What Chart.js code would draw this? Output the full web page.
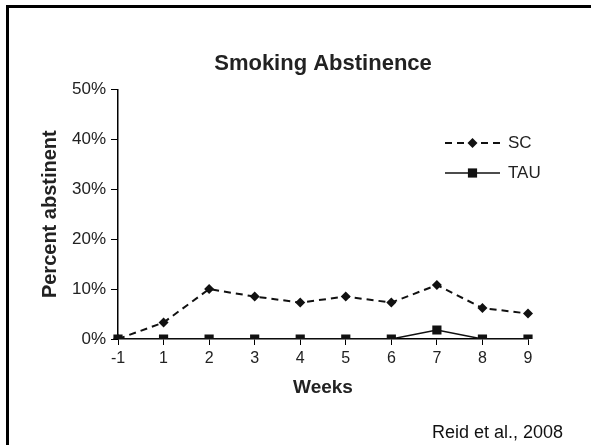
<!DOCTYPE html>
<html>
<head>
<meta charset="utf-8">
<script src="https://cdn.jsdelivr.net/npm/chart.js@4"></script>
<style>
  html, body { margin:0; padding:0; background:#fff; overflow:hidden; }
  #wrap { position:relative; width:591px; height:445px; }
  #frame { position:absolute; left:6px; top:5px; right:0; bottom:0; border-left:3px solid #000; border-top:3px solid #000; pointer-events:none; }
</style>
</head>
<body>
<div id="wrap">
  <canvas id="chart" width="591" height="445"></canvas>
  <div id="frame"></div>
</div>
<script>
/* ── data ── */
const WEEKS = ['-1','1','2','3','4','5','6','7','8','9'];
const SC_VALUES  = [0, 3.3, 10, 8.5, 7.3, 8.5, 7.3, 10.8, 6.2, 5.1];
const TAU_VALUES = [0, 0, 0, 0, 0, 0, 0, 1.8, 0, 0];
const Y_MAX = 50, Y_STEP = 10;
const FONT = '"Liberation Sans", Arial, sans-serif';
const INK = '#222';

/* ── legend with line sample + marker, and source note ── */
const sideLegend = {
  id:'sideLegend',
  afterDraw(chart) {
    const {ctx, chartArea} = chart;
    const x0 = chartArea.right - 83, x1 = chartArea.right - 28;
    const rows = [143, 173];
    ctx.save();
    chart.data.datasets.forEach((ds, i) => {
      const y = rows[i];
      ctx.strokeStyle = ds.borderColor;
      ctx.lineWidth = ds.borderWidth;
      ctx.setLineDash(ds.borderDash || []);
      ctx.beginPath(); ctx.moveTo(x0, y); ctx.lineTo(x1, y); ctx.stroke();
      ctx.setLineDash([]);
      const mx = (x0 + x1) / 2, r = ds.pointRadius;
      ctx.fillStyle = ds.pointBackgroundColor;
      ctx.beginPath();
      if (ds.pointStyle === 'rectRot') {
        ctx.moveTo(mx, y - r); ctx.lineTo(mx + r, y); ctx.lineTo(mx, y + r); ctx.lineTo(mx - r, y);
      } else {
        const s = r * Math.SQRT1_2;
        ctx.rect(mx - s, y - s, 2 * s, 2 * s);
      }
      ctx.closePath(); ctx.fill();
      ctx.fillStyle = INK;
      ctx.font = '17px ' + FONT;
      ctx.textAlign = 'left'; ctx.textBaseline = 'middle';
      ctx.fillText(ds.label, x1 + 8, y);
    });
    ctx.font = '18px ' + FONT;
    ctx.textAlign = 'right'; ctx.textBaseline = 'middle';
    ctx.fillStyle = '#111';
    ctx.fillText('Reid et al., 2008', 563, 433);
    ctx.restore();
  }
};

new Chart(document.getElementById('chart').getContext('2d'), {
  type:'line',
  data:{
    labels: WEEKS,
    datasets:[
      { label:'SC', data:SC_VALUES, borderColor:'#111', borderWidth:2, borderDash:[7,5],
        pointStyle:'rectRot', pointRadius:5, pointBackgroundColor:'#111', pointBorderWidth:0, tension:0 },
      { label:'TAU', data:TAU_VALUES, borderColor:'#111', borderWidth:1.5,
        pointStyle:'rect', pointRadius:6.5, pointBackgroundColor:'#111', pointBorderWidth:0, tension:0 },
    ]
  },
  options:{
    responsive:false, animation:false,
    layout:{ padding:{ left:33, right:63, top:20, bottom:46 } },
    plugins:{
      legend:{ display:false }, tooltip:{ enabled:false },
      title:{ display:true, text:'Smoking Abstinence', fullSize:false, color:INK,
              font:{ family:FONT, size:22, weight:'bold' }, padding:{ top:31, bottom:12 } }
    },
    scales:{
      x:{
        offset:false,
        grid:{ drawOnChartArea:false, drawTicks:true, tickLength:6, color:'#000' },
        border:{ display:true, color:'#000', width:1.5 },
        ticks:{ color:INK, font:{ family:FONT, size:16 }, padding:4, maxRotation:0, autoSkip:false },
        title:{ display:true, text:'Weeks', color:INK, font:{ family:FONT, size:19, weight:'bold' }, padding:{ top:0, bottom:0 } },
        afterFit: s => { s.height = 60; }
      },
      y:{
        min:0, max:Y_MAX,
        grid:{ drawOnChartArea:false, drawTicks:true, tickLength:7, color:'#000' },
        border:{ display:true, color:'#000', width:1.5 },
        ticks:{ stepSize:Y_STEP, color:INK, font:{ family:FONT, size:17 }, padding:5, callback:v => v + '%' },
        title:{ display:true, text:'Percent abstinent', color:INK, font:{ family:FONT, size:20, weight:'bold' }, padding:{ top:5, bottom:0 } },
        afterFit: s => { s.width = 85; }
      }
    }
  },
  plugins:[sideLegend]
});
</script>
</body>
</html>
